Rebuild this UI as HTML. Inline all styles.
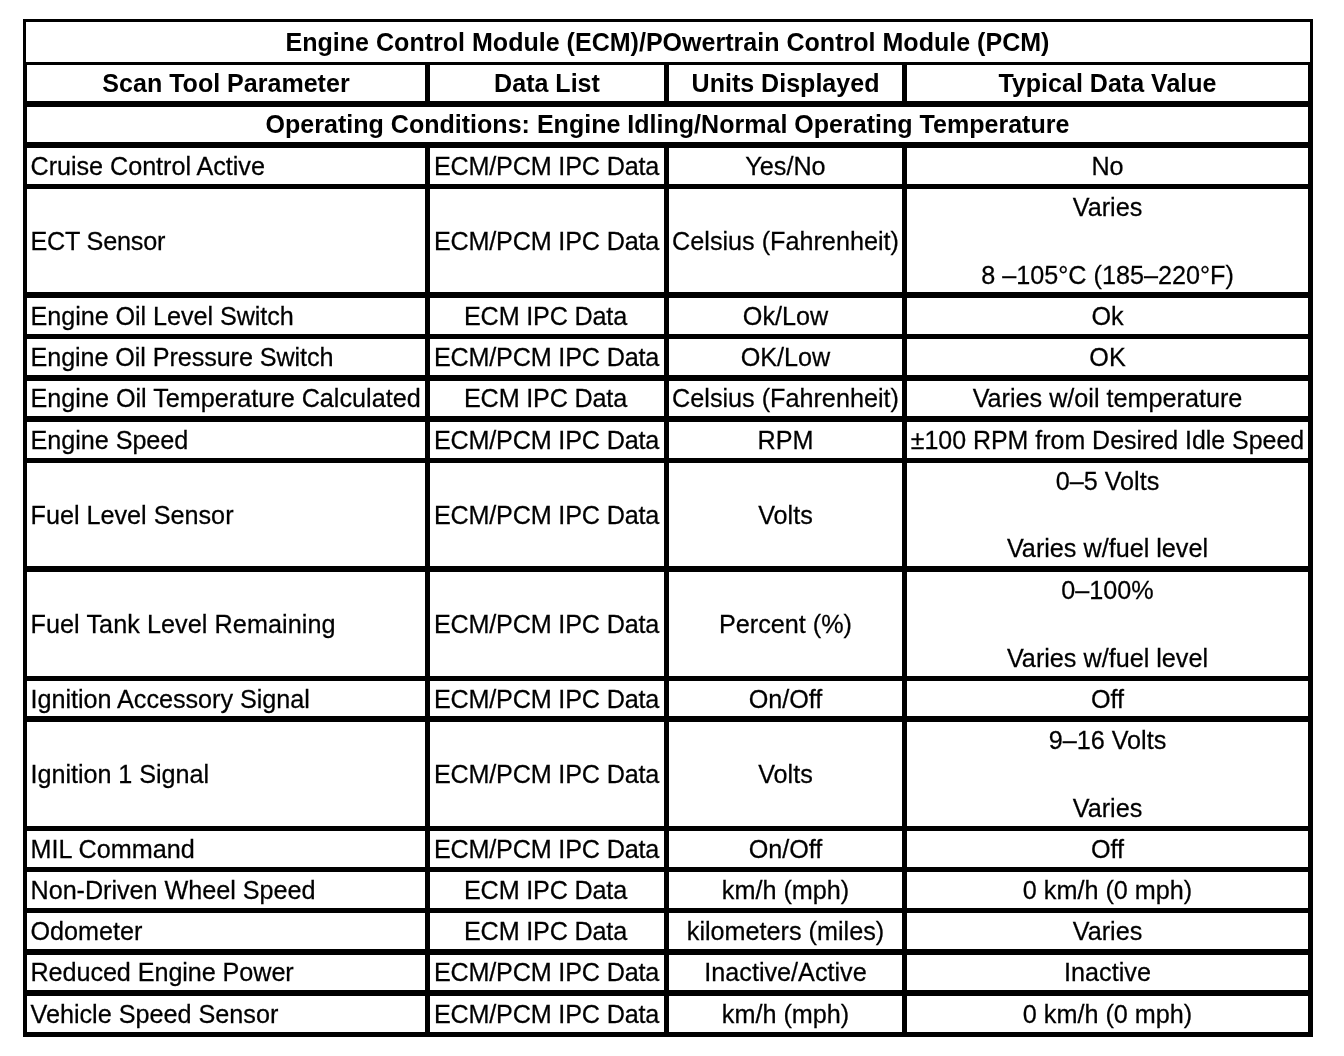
<!DOCTYPE html>
<html lang="en"><head><meta charset="utf-8"><title>Engine Control Module (ECM)/POwertrain Control Module (PCM)</title>
<style>
html,body{margin:0;padding:0;background:#fff;}
body{width:1344px;height:1056px;position:relative;overflow:hidden;font-family:"Liberation Sans",Arial,Helvetica,sans-serif;font-size:25.2px;color:#000;}
.l{position:absolute;background:#000;}
.c{position:absolute;display:flex;align-items:center;justify-content:center;text-align:center;white-space:nowrap;line-height:30px;box-sizing:border-box;}
.c.a{justify-content:flex-start;text-align:left;padding-left:3.5px;}
.b{font-weight:bold;font-size:25.05px;}
.t{display:inline-block;transform:scaleY(1.035);-webkit-text-stroke:0.25px #000;}
.d{letter-spacing:-0.18px;padding-right:1px;}
.d.e{padding-right:3px;}
.b .t{-webkit-text-stroke:0;}
.w{font-size:24.95px;}
.c div{width:100%;}
.c.m{display:block;}
.c.m p{margin:0;position:absolute;left:0;width:100%;height:30px;line-height:30px;}
</style></head><body>
<div class="l" style="left:23px;top:19px;width:1290px;height:3px"></div><div class="l" style="left:23px;top:62px;width:1290px;height:3px"></div><div class="l" style="left:23px;top:101px;width:1290px;height:6px"></div><div class="l" style="left:23px;top:142px;width:1290px;height:6px"></div><div class="l" style="left:23px;top:184px;width:1290px;height:5px"></div><div class="l" style="left:23px;top:292px;width:1290px;height:6px"></div><div class="l" style="left:23px;top:334px;width:1290px;height:5px"></div><div class="l" style="left:23px;top:375px;width:1290px;height:6px"></div><div class="l" style="left:23px;top:416px;width:1290px;height:6px"></div><div class="l" style="left:23px;top:458px;width:1290px;height:5px"></div><div class="l" style="left:23px;top:566px;width:1290px;height:6px"></div><div class="l" style="left:23px;top:676px;width:1290px;height:5px"></div><div class="l" style="left:23px;top:716px;width:1290px;height:6px"></div><div class="l" style="left:23px;top:826px;width:1290px;height:5px"></div><div class="l" style="left:23px;top:867px;width:1290px;height:5px"></div><div class="l" style="left:23px;top:908px;width:1290px;height:5px"></div><div class="l" style="left:23px;top:949px;width:1290px;height:6px"></div><div class="l" style="left:23px;top:990px;width:1290px;height:6px"></div><div class="l" style="left:23px;top:1032px;width:1290px;height:5px"></div><div class="l" style="left:23px;top:19px;width:3px;height:1018px"></div><div class="l" style="left:23px;top:65px;width:4px;height:972px"></div><div class="l" style="left:1310px;top:19px;width:3px;height:1018px"></div><div class="l" style="left:1308px;top:65px;width:5px;height:972px"></div><div class="l" style="left:425px;top:62px;width:5px;height:42px"></div><div class="l" style="left:425px;top:145px;width:5px;height:890px"></div><div class="l" style="left:664px;top:62px;width:5px;height:42px"></div><div class="l" style="left:664px;top:145px;width:5px;height:890px"></div><div class="l" style="left:902px;top:62px;width:5px;height:42px"></div><div class="l" style="left:902px;top:145px;width:5px;height:890px"></div>
<div class="c b" style="left:27px;top:22px;width:1281px;height:40px"><span class="t">Engine Control Module (ECM)/POwertrain Control Module (PCM)</span></div>
<div class="c b" style="left:27px;top:65px;width:398px;height:36px"><span class="t">Scan Tool Parameter</span></div>
<div class="c b" style="left:430px;top:65px;width:234px;height:36px"><span class="t">Data List</span></div>
<div class="c b" style="left:669px;top:65px;width:233px;height:36px"><span class="t">Units Displayed</span></div>
<div class="c b" style="left:907px;top:65px;width:401px;height:36px"><span class="t">Typical Data Value</span></div>
<div class="c b" style="left:27px;top:107px;width:1281px;height:34px"><span class="t">Operating Conditions: Engine Idling/Normal Operating Temperature</span></div>
<div class="c a" style="left:27px;top:148px;width:398px;height:36px;letter-spacing:-0.038px"><span class="t">Cruise Control Active</span></div>
<div class="c d" style="left:430px;top:148px;width:234px;height:36px"><span class="t">ECM/PCM IPC Data</span></div>
<div class="c " style="left:669px;top:148px;width:233px;height:36px"><span class="t">Yes/No</span></div>
<div class="c " style="left:907px;top:148px;width:401px;height:36px"><span class="t">No</span></div>
<div class="c a" style="left:27px;top:189px;width:398px;height:103px;letter-spacing:-0.200px"><span class="t">ECT Sensor</span></div>
<div class="c d" style="left:430px;top:189px;width:234px;height:103px"><span class="t">ECM/PCM IPC Data</span></div>
<div class="c " style="left:669px;top:189px;width:233px;height:103px"><span class="t">Celsius (Fahrenheit)</span></div>
<div class="c m" style="left:907px;top:189px;width:401px;height:103px"><div><p style="top:2.70px"><span class="t">Varies</span></p><p style="top:70.70px"><span class="t">8 –105°C (185–220°F)</span></p></div></div>
<div class="c a" style="left:27px;top:298px;width:398px;height:36px;letter-spacing:-0.057px"><span class="t">Engine Oil Level Switch</span></div>
<div class="c d e" style="left:430px;top:298px;width:234px;height:36px"><span class="t">ECM IPC Data</span></div>
<div class="c " style="left:669px;top:298px;width:233px;height:36px"><span class="t">Ok/Low</span></div>
<div class="c " style="left:907px;top:298px;width:401px;height:36px"><span class="t">Ok</span></div>
<div class="c a" style="left:27px;top:339px;width:398px;height:36px;letter-spacing:-0.088px"><span class="t">Engine Oil Pressure Switch</span></div>
<div class="c d" style="left:430px;top:339px;width:234px;height:36px"><span class="t">ECM/PCM IPC Data</span></div>
<div class="c " style="left:669px;top:339px;width:233px;height:36px"><span class="t">OK/Low</span></div>
<div class="c " style="left:907px;top:339px;width:401px;height:36px"><span class="t">OK</span></div>
<div class="c a" style="left:27px;top:381px;width:398px;height:34px"><span class="t">Engine Oil Temperature Calculated</span></div>
<div class="c d e" style="left:430px;top:381px;width:234px;height:34px"><span class="t">ECM IPC Data</span></div>
<div class="c " style="left:669px;top:381px;width:233px;height:34px"><span class="t">Celsius (Fahrenheit)</span></div>
<div class="c " style="left:907px;top:381px;width:401px;height:34px"><span class="t">Varies w/oil temperature</span></div>
<div class="c a" style="left:27px;top:422px;width:398px;height:36px;letter-spacing:-0.042px"><span class="t">Engine Speed</span></div>
<div class="c d" style="left:430px;top:422px;width:234px;height:36px"><span class="t">ECM/PCM IPC Data</span></div>
<div class="c " style="left:669px;top:422px;width:233px;height:36px"><span class="t">RPM</span></div>
<div class="c w" style="left:907px;top:422px;width:401px;height:36px"><span class="t">±100 RPM from Desired Idle Speed</span></div>
<div class="c a" style="left:27px;top:463px;width:398px;height:103px"><span class="t">Fuel Level Sensor</span></div>
<div class="c d" style="left:430px;top:463px;width:234px;height:103px"><span class="t">ECM/PCM IPC Data</span></div>
<div class="c " style="left:669px;top:463px;width:233px;height:103px"><span class="t">Volts</span></div>
<div class="c m" style="left:907px;top:463px;width:401px;height:103px"><div><p style="top:2.70px"><span class="t">0–5 Volts</span></p><p style="top:69.70px"><span class="t">Varies w/fuel level</span></p></div></div>
<div class="c a" style="left:27px;top:572px;width:398px;height:104px;letter-spacing:0.070px"><span class="t">Fuel Tank Level Remaining</span></div>
<div class="c d" style="left:430px;top:572px;width:234px;height:104px"><span class="t">ECM/PCM IPC Data</span></div>
<div class="c " style="left:669px;top:572px;width:233px;height:104px"><span class="t">Percent (%)</span></div>
<div class="c m" style="left:907px;top:572px;width:401px;height:104px"><div><p style="top:2.70px"><span class="t">0–100%</span></p><p style="top:70.70px"><span class="t">Varies w/fuel level</span></p></div></div>
<div class="c a" style="left:27px;top:681px;width:398px;height:35px;letter-spacing:-0.028px"><span class="t">Ignition Accessory Signal</span></div>
<div class="c d" style="left:430px;top:681px;width:234px;height:35px"><span class="t">ECM/PCM IPC Data</span></div>
<div class="c " style="left:669px;top:681px;width:233px;height:35px"><span class="t">On/Off</span></div>
<div class="c " style="left:907px;top:681px;width:401px;height:35px"><span class="t">Off</span></div>
<div class="c a" style="left:27px;top:722px;width:398px;height:104px;letter-spacing:-0.041px"><span class="t">Ignition 1 Signal</span></div>
<div class="c d" style="left:430px;top:722px;width:234px;height:104px"><span class="t">ECM/PCM IPC Data</span></div>
<div class="c " style="left:669px;top:722px;width:233px;height:104px"><span class="t">Volts</span></div>
<div class="c m" style="left:907px;top:722px;width:401px;height:104px"><div><p style="top:2.70px"><span class="t">9–16 Volts</span></p><p style="top:70.70px"><span class="t">Varies</span></p></div></div>
<div class="c a" style="left:27px;top:831px;width:398px;height:36px"><span class="t">MIL Command</span></div>
<div class="c d" style="left:430px;top:831px;width:234px;height:36px"><span class="t">ECM/PCM IPC Data</span></div>
<div class="c " style="left:669px;top:831px;width:233px;height:36px"><span class="t">On/Off</span></div>
<div class="c " style="left:907px;top:831px;width:401px;height:36px"><span class="t">Off</span></div>
<div class="c a" style="left:27px;top:872px;width:398px;height:36px;letter-spacing:-0.032px"><span class="t">Non-Driven Wheel Speed</span></div>
<div class="c d e" style="left:430px;top:872px;width:234px;height:36px"><span class="t">ECM IPC Data</span></div>
<div class="c " style="left:669px;top:872px;width:233px;height:36px"><span class="t">km/h (mph)</span></div>
<div class="c " style="left:907px;top:872px;width:401px;height:36px"><span class="t">0 km/h (0 mph)</span></div>
<div class="c a" style="left:27px;top:913px;width:398px;height:36px"><span class="t">Odometer</span></div>
<div class="c d e" style="left:430px;top:913px;width:234px;height:36px"><span class="t">ECM IPC Data</span></div>
<div class="c " style="left:669px;top:913px;width:233px;height:36px"><span class="t">kilometers (miles)</span></div>
<div class="c " style="left:907px;top:913px;width:401px;height:36px"><span class="t">Varies</span></div>
<div class="c a" style="left:27px;top:955px;width:398px;height:34px;letter-spacing:-0.075px"><span class="t">Reduced Engine Power</span></div>
<div class="c d" style="left:430px;top:955px;width:234px;height:34px"><span class="t">ECM/PCM IPC Data</span></div>
<div class="c " style="left:669px;top:955px;width:233px;height:34px"><span class="t">Inactive/Active</span></div>
<div class="c " style="left:907px;top:955px;width:401px;height:34px"><span class="t">Inactive</span></div>
<div class="c a" style="left:27px;top:996px;width:398px;height:36px"><span class="t">Vehicle Speed Sensor</span></div>
<div class="c d" style="left:430px;top:996px;width:234px;height:36px"><span class="t">ECM/PCM IPC Data</span></div>
<div class="c " style="left:669px;top:996px;width:233px;height:36px"><span class="t">km/h (mph)</span></div>
<div class="c " style="left:907px;top:996px;width:401px;height:36px"><span class="t">0 km/h (0 mph)</span></div>
</body></html>
